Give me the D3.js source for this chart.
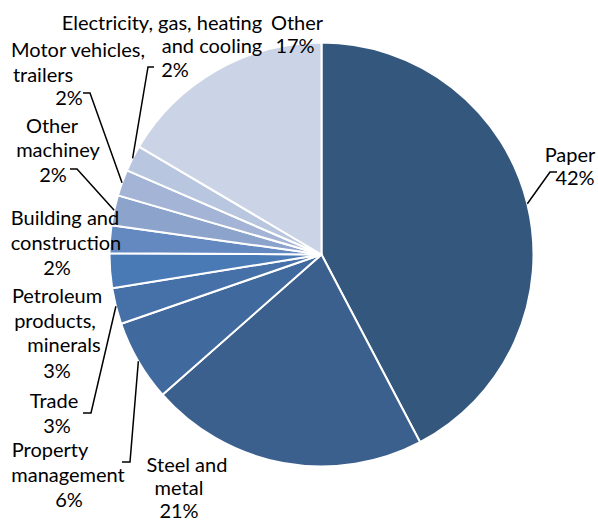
<!DOCTYPE html>
<html lang="en">
<head>
<meta charset="utf-8">
<title>Share by sector</title>
<script src="https://cdn.jsdelivr.net/npm/d3@7"></script>
<style>
	body { margin: 0; background: #fff; }
	.lbl { font-family: Lato, "Open Sans", sans-serif; font-size: 20px; fill: #000; }
</style>
</head>
<body>
<svg id="chart" width="598" height="523"></svg>
<script>

// data, clockwise from 12 o'clock
var categories = ["Paper", "Steel and metal", "Property management", "Trade",
	"Petroleum products, minerals", "Building and construction", "Other machiney",
	"Motor vehicles, trailers", "Electricity, gas, heating and cooling", "Other"]
var shares = [42.3, 21.2, 6.2, 2.75, 2.65, 2.1, 2.3, 2.0, 2.0, 16.5]
var nameLines = [
	["Paper"],
	["Steel and", "metal"],
	["Property", "management"],
	["Trade"],
	["Petroleum", "products,", "minerals"],
	["Building and", "construction"],
	["Other", "machiney"],
	["Motor vehicles,", "trailers"],
	["Electricity, gas, heating", "and cooling"],
	["Other"]
]
var colors = ["#34577e", "#3c608e", "#40699d", "#4671a8", "#4a7ab5",
	"#6489c0", "#8ca3cc", "#a3b4d6", "#b9c6e0", "#cbd4e6"]

// label placement (centre x, baseline y per line, last line is the %)
var labelPos = [
	[[570, 162], [575, 185]],
	[[187, 472], [179, 495], [179, 518]],
	[[50, 457], [68, 482], [69, 507]],
	[[54, 408], [57, 433]],
	[[57, 303], [55, 328], [64, 352], [57, 378]],
	[[65, 225], [66, 250], [57, 275]],
	[[52, 133], [58, 157], [53, 182]],
	[[78, 57], [43, 82], [69, 105]],
	[[162, 30], [212, 53], [175, 77]],
	[[297, 30], [295, 53]]
]
// leader lines: [x start, x elbow, y], null = no leader
var leaders = [[557, 550, 172], null, [122, 130, 462], [83, 91, 413], null, null,
	[70, 77, 169], [83, 90, 93], [154, 148, 67], null]

var cx = 321.5, cy = 254.5, r = 212

var svg = d3.select("#chart")
var g = svg.append("g").attr("transform", "translate(" + cx + "," + cy + ")")

var pie = d3.pie().sort(null).value(function(d){ return d })
var arcs = pie(shares)
var arc = d3.arc().innerRadius(0).outerRadius(r)

g.selectAll("path.slice")
	.data(arcs)
	.enter()
	.append("path")
	.attr("class", "slice")
	.attr("d", arc)
	.attr("fill", function(d, i){ return colors[i] })
	.attr("stroke", "#fff")
	.attr("stroke-width", 2)
	.attr("stroke-linejoin", "round")

// leaders end on the rim at the slice mid angle
arcs.forEach(function(a, i){
	var l = leaders[i]
	if (!l) return
	var mid = (a.startAngle + a.endAngle) / 2
	var ex = cx + r * Math.sin(mid), ey = cy - r * Math.cos(mid)
	svg.append("polyline")
		.attr("points", [[l[0], l[2]], [l[1], l[2]], [ex, ey]].join(" "))
		.attr("fill", "none")
		.attr("stroke", "#000")
		.attr("stroke-width", 1.5)
})

categories.forEach(function(c, i){
	var lines = nameLines[i].concat([Math.round(shares[i]) + "%"])
	var t = svg.append("text").attr("class", "lbl").attr("text-anchor", "middle")
	lines.forEach(function(s, j){
		t.append("tspan")
			.attr("x", labelPos[i][j][0])
			.attr("y", labelPos[i][j][1])
			.text(s)
	})
})

</script>
</body>
</html>
